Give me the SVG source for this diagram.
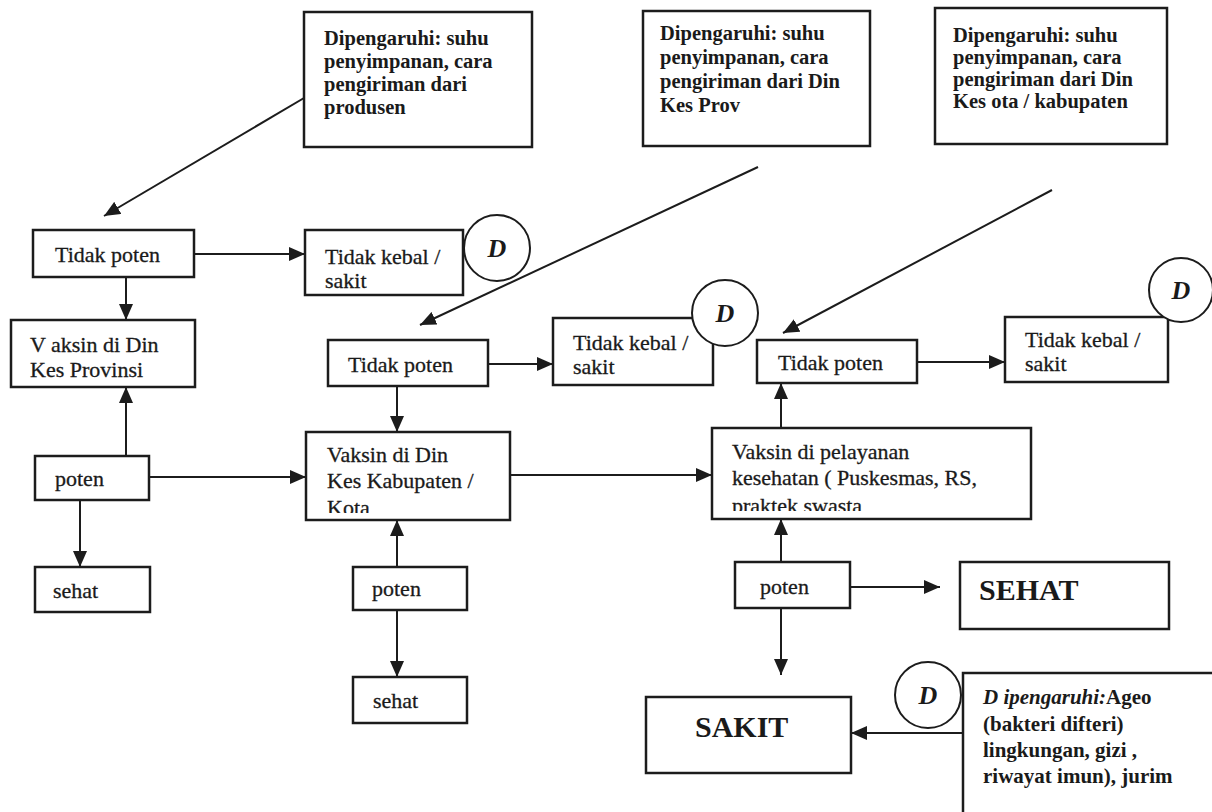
<svg xmlns="http://www.w3.org/2000/svg" width="1212" height="812" viewBox="0 0 1212 812">
<defs>
<style>
.box{fill:#fff;stroke:#1c1c1c;stroke-width:2.5}
.circ{fill:#fff;stroke:#1c1c1c;stroke-width:2}
.t{font-family:"Liberation Serif","Times New Roman",serif;font-size:22px;fill:#1a1a1a;stroke:#1a1a1a;stroke-width:0.3}
.tb{font-family:"Liberation Serif","Times New Roman",serif;font-size:20.5px;font-weight:bold;fill:#1a1a1a}
.ta{font-family:"Liberation Serif","Times New Roman",serif;font-size:21px;font-weight:bold;fill:#1a1a1a}
.big{font-family:"Liberation Serif","Times New Roman",serif;font-size:30px;font-weight:bold;fill:#1a1a1a}
.d{font-family:"Liberation Serif","Times New Roman",serif;font-size:26px;font-weight:bold;font-style:italic;fill:#1a1a1a}
.c{stroke:#1c1c1c;stroke-width:2;fill:none;marker-end:url(#ah)}
</style>
<marker id="ah" markerUnits="userSpaceOnUse" markerWidth="18" markerHeight="14" refX="16" refY="7" orient="auto">
<path d="M0,0 L16,7 L0,14 Z" fill="#1c1c1c"/>
</marker>
<clipPath id="clipKab"><rect x="306" y="432" width="204" height="81"/></clipPath>
<clipPath id="clipPel"><rect x="712" y="428" width="319" height="83"/></clipPath>
</defs>
<rect width="1212" height="812" fill="#fff"/>

<g id="connectors">
<line class="c" x1="304" y1="98" x2="104" y2="216"/>
<line class="c" x1="194" y1="254" x2="305" y2="254"/>
<line class="c" x1="126" y1="277" x2="126" y2="320"/>
<line class="c" x1="126" y1="456" x2="126" y2="387"/>
<line class="c" x1="149" y1="477" x2="306" y2="477"/>
<line class="c" x1="80" y1="500" x2="80" y2="567"/>
<line class="c" x1="758" y1="167" x2="420" y2="325"/>
<line class="c" x1="488" y1="364" x2="553" y2="364"/>
<line class="c" x1="397" y1="386" x2="397" y2="432"/>
<line class="c" x1="397" y1="567" x2="397" y2="520"/>
<line class="c" x1="397" y1="610" x2="397" y2="677"/>
<line class="c" x1="510" y1="475" x2="712" y2="475"/>
<line class="c" x1="1052" y1="190" x2="783" y2="333"/>
<line class="c" x1="917" y1="362" x2="1005" y2="362"/>
<line class="c" x1="781" y1="428" x2="781" y2="383"/>
<line class="c" x1="781" y1="562" x2="781" y2="519"/>
<line class="c" x1="850" y1="587" x2="940" y2="587"/>
<line class="c" x1="781" y1="608" x2="781" y2="675"/>
<line class="c" x1="963" y1="733" x2="851" y2="733"/>
</g>

<g id="info-produsen">
<rect class="box" x="304" y="12" width="228" height="135"/>
<text class="tb" x="324" y="45">Dipengaruhi: suhu</text>
<text class="tb" x="324" y="68">penyimpanan, cara</text>
<text class="tb" x="324" y="91">pengiriman dari</text>
<text class="tb" x="324" y="114">produsen</text>
</g>
<g id="info-prov">
<rect class="box" x="643" y="11" width="227" height="135"/>
<text class="tb" x="660" y="40">Dipengaruhi: suhu</text>
<text class="tb" x="660" y="64">penyimpanan, cara</text>
<text class="tb" x="660" y="88">pengiriman dari Din</text>
<text class="tb" x="660" y="112">Kes Prov</text>
</g>
<g id="info-kab">
<rect class="box" x="935" y="8" width="232" height="136"/>
<text class="tb" x="953" y="42">Dipengaruhi: suhu</text>
<text class="tb" x="953" y="64">penyimpanan, cara</text>
<text class="tb" x="953" y="86">pengiriman dari Din</text>
<text class="tb" x="953" y="108">Kes ota / kabupaten</text>
</g>

<g id="tidak-poten-1">
<rect class="box" x="33" y="230" width="161" height="47"/>
<text class="t" x="55" y="262">Tidak poten</text>
</g>
<g id="tidak-kebal-1">
<rect class="box" x="305" y="230" width="158" height="65"/>
<text class="t" x="325" y="264">Tidak kebal /</text>
<text class="t" x="325" y="288">sakit</text>
</g>
<g id="d-1">
<circle class="circ" cx="497" cy="248" r="33"/>
<text class="d" x="497" y="257" text-anchor="middle">D</text>
</g>
<g id="vaksin-prov">
<rect class="box" x="11" y="320" width="184" height="67"/>
<text class="t" x="30" y="352">V aksin di Din</text>
<text class="t" x="30" y="377">Kes Provinsi</text>
</g>
<g id="poten-1">
<rect class="box" x="35" y="456" width="114" height="44"/>
<text class="t" x="55" y="486">poten</text>
</g>
<g id="sehat-1">
<rect class="box" x="35" y="567" width="115" height="45"/>
<text class="t" x="53" y="598">sehat</text>
</g>

<g id="tidak-poten-2">
<rect class="box" x="328" y="340" width="160" height="46"/>
<text class="t" x="348" y="372">Tidak poten</text>
</g>
<g id="tidak-kebal-2">
<rect class="box" x="553" y="318" width="160" height="67"/>
<text class="t" x="573" y="350">Tidak kebal /</text>
<text class="t" x="573" y="374">sakit</text>
</g>
<g id="d-2">
<circle class="circ" cx="725" cy="313" r="33"/>
<text class="d" x="725" y="322" text-anchor="middle">D</text>
</g>
<g id="vaksin-kab">
<rect class="box" x="306" y="432" width="204" height="88"/>
<g clip-path="url(#clipKab)">
<text class="t" x="327" y="462">Vaksin di Din</text>
<text class="t" x="327" y="488">Kes Kabupaten /</text>
<text class="t" x="327" y="515">Kota</text>
</g>
</g>
<g id="poten-2">
<rect class="box" x="353" y="567" width="114" height="43"/>
<text class="t" x="372" y="596">poten</text>
</g>
<g id="sehat-2">
<rect class="box" x="353" y="677" width="114" height="46"/>
<text class="t" x="373" y="708">sehat</text>
</g>

<g id="tidak-poten-3">
<rect class="box" x="757" y="340" width="160" height="43"/>
<text class="t" x="778" y="370">Tidak poten</text>
</g>
<g id="tidak-kebal-3">
<rect class="box" x="1005" y="317" width="163" height="65"/>
<text class="t" x="1025" y="347">Tidak kebal /</text>
<text class="t" x="1025" y="371">sakit</text>
</g>
<g id="d-3">
<circle class="circ" cx="1181" cy="290" r="32"/>
<text class="d" x="1181" y="299" text-anchor="middle">D</text>
</g>
<g id="vaksin-pelayanan">
<rect class="box" x="712" y="428" width="319" height="91"/>
<g clip-path="url(#clipPel)">
<text class="t" x="732" y="459">Vaksin di pelayanan</text>
<text class="t" x="732" y="485">kesehatan ( Puskesmas, RS,</text>
<text class="t" x="732" y="513">praktek swasta</text>
</g>
</g>
<g id="poten-3">
<rect class="box" x="735" y="562" width="115" height="46"/>
<text class="t" x="760" y="594">poten</text>
</g>
<g id="sehat-final">
<rect class="box" x="960" y="562" width="209" height="67"/>
<text class="big" x="979" y="600">SEHAT</text>
</g>
<g id="sakit-final">
<rect class="box" x="646" y="697" width="205" height="76"/>
<text class="big" x="695" y="737">SAKIT</text>
</g>
<g id="agen-box">
<rect class="box" x="963" y="673" width="260" height="150"/>
<text class="ta" x="983" y="704"><tspan font-style="italic">D ipengaruhi:</tspan>Ageo</text>
<text class="ta" x="983" y="731">(bakteri difteri)</text>
<text class="ta" x="983" y="757">lingkungan, gizi ,</text>
<text class="ta" x="983" y="783">riwayat imun), jurim</text>
</g>
<g id="d-4">
<circle class="circ" cx="928" cy="695" r="33"/>
<text class="d" x="928" y="704" text-anchor="middle">D</text>
</g>
</svg>
